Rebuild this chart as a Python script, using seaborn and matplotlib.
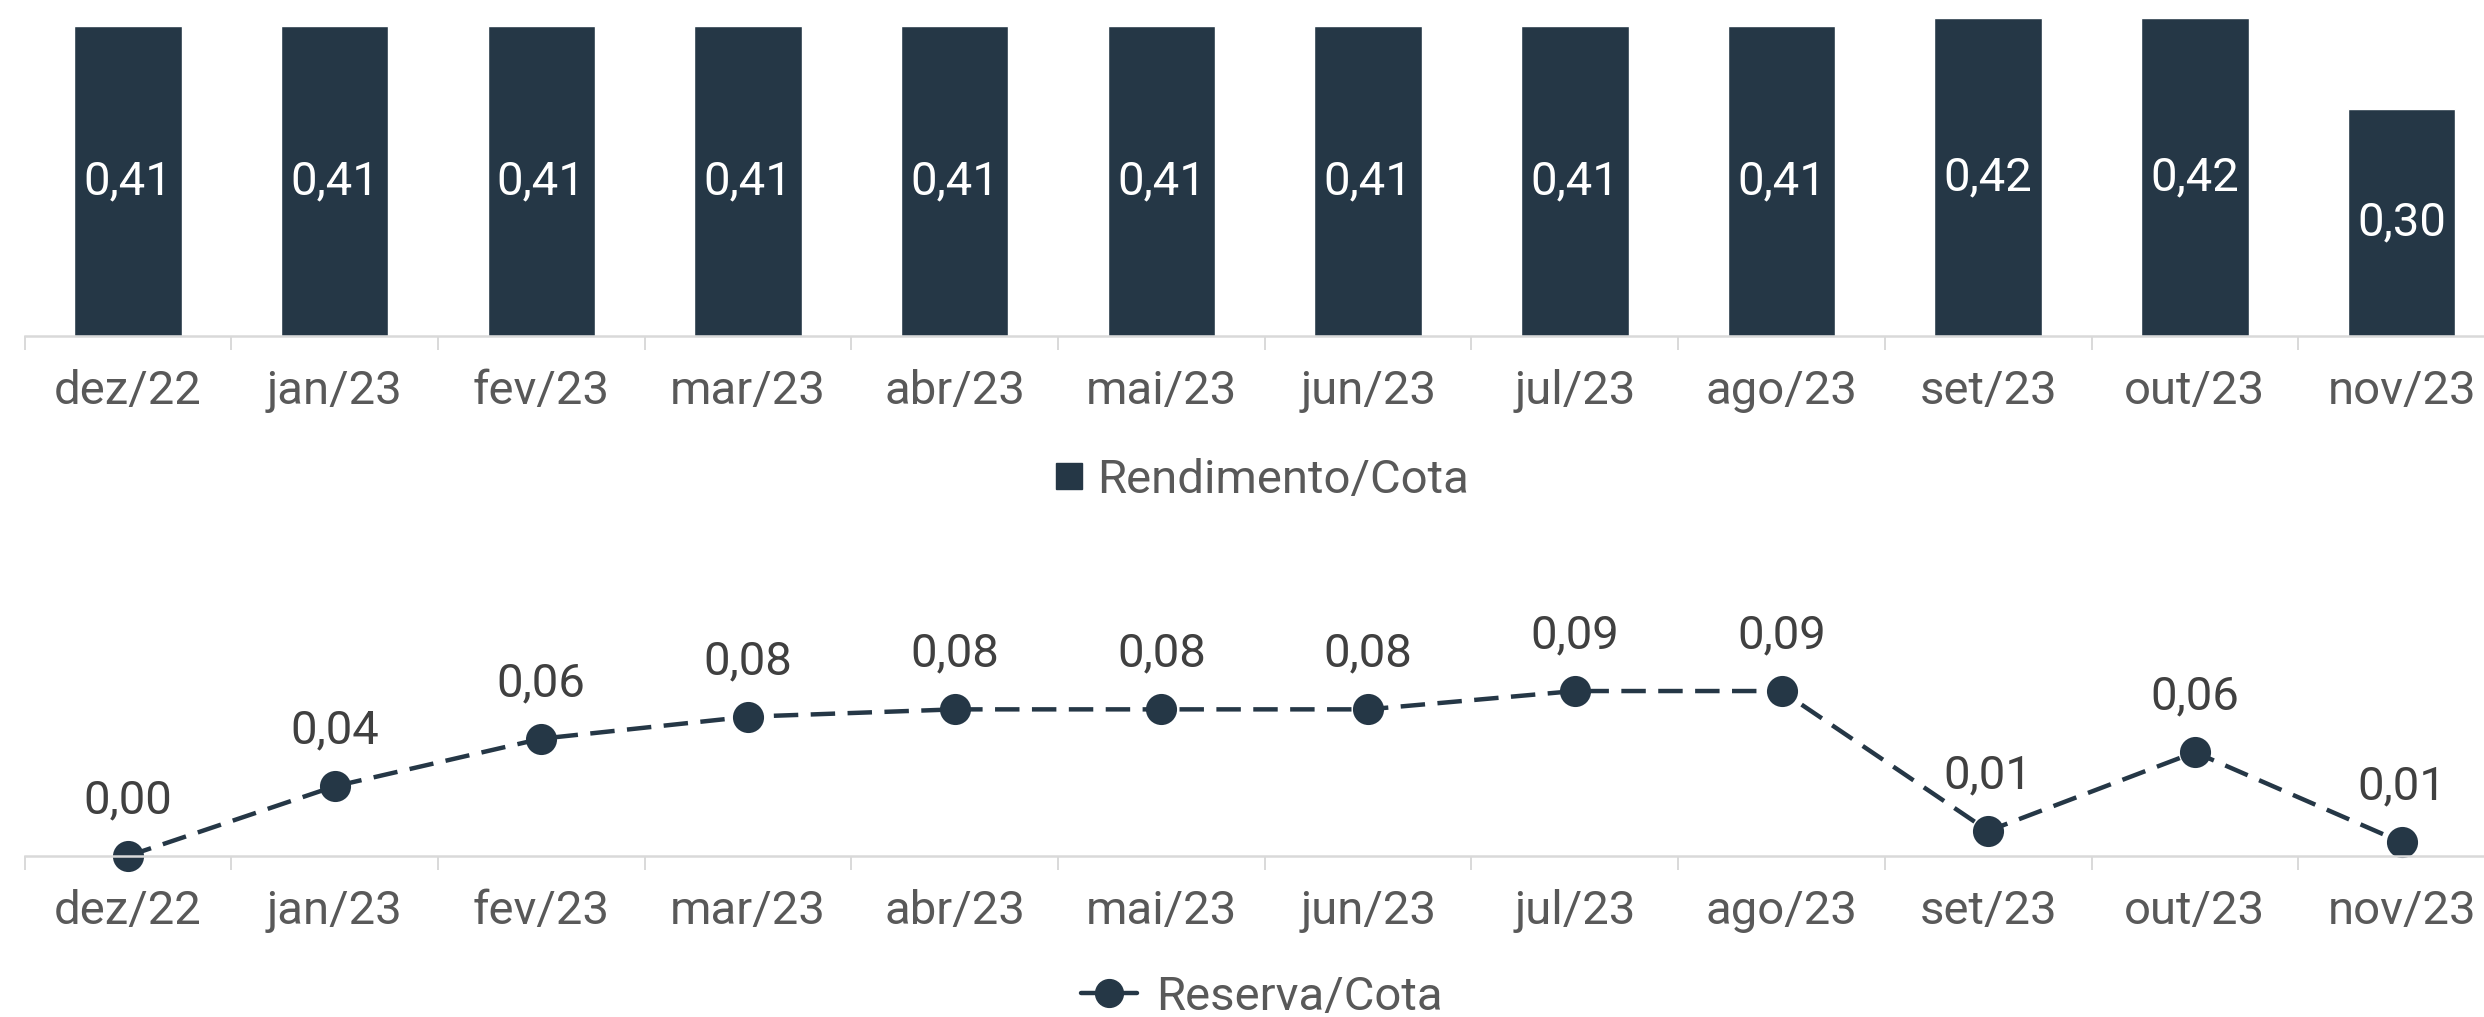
import numpy as np
import matplotlib
matplotlib.use("Agg")
import matplotlib.pyplot as plt
from matplotlib.lines import Line2D
import seaborn as sns

months = ["dez/22", "jan/23", "fev/23", "mar/23", "abr/23", "mai/23",
          "jun/23", "jul/23", "ago/23", "set/23", "out/23", "nov/23"]
rendimento = [0.41, 0.41, 0.41, 0.41, 0.41, 0.41, 0.41, 0.41, 0.41, 0.42, 0.42, 0.30]
reserva = [0.000, 0.038, 0.064, 0.076, 0.080, 0.080, 0.080, 0.090, 0.090, 0.0137, 0.0566, 0.0075]

NAVY = "#253746"
TICK_GRAY = "#595959"
LABEL_GRAY = "#404040"
AXIS_GRAY = "#d9d9d9"
FS = 34

sns.set_theme(style="white")
plt.rcParams["font.family"] = ["Roboto", "DejaVu Sans"]


def fmt(v):
    return f"{v:.2f}".replace(".", ",")


def style_axis(ax, n):
    for side in ["top", "right", "left"]:
        ax.spines[side].set_visible(False)
    ax.spines["bottom"].set_color(AXIS_GRAY)
    ax.spines["bottom"].set_linewidth(1.8)
    ax.set_xlim(-0.5, n - 0.5)
    ax.set_yticks([])
    ax.set_ylabel("")
    ax.set_xlabel("")
    ax.set_xticks(np.arange(-0.5, n, 1.0), minor=True)
    ax.tick_params(axis="x", which="minor", length=10, width=1.4,
                   color=AXIS_GRAY, direction="out", bottom=True)
    ax.tick_params(axis="x", which="major", length=0, pad=24,
                   labelsize=FS, labelcolor=TICK_GRAY)


W, H = 2484, 1017
fig = plt.figure(figsize=(W / 100, H / 100), dpi=100)
fig.patch.set_facecolor("white")

left = 24.5 / W
width = (2505 - 24.5) / W

# top: rendimento bars
ax1 = fig.add_axes([left, 1 - 336 / H, width, 336 / H])
sns.barplot(x=months, y=rendimento, color=NAVY, width=0.52, saturation=1,
            ax=ax1)
ax1.set_ylim(0, 336 / 756.0)
style_axis(ax1, len(months))
ax1.bar_label(ax1.containers[0], labels=[fmt(v) for v in rendimento],
              label_type="center", color="white", fontsize=FS)

# bottom: reserva line
ax2 = fig.add_axes([left, 1 - 856 / H, width, 236 / H])
sns.pointplot(x=months, y=reserva, color=NAVY, linestyles="--",
              markers="o", markersize=20, linewidth=3.2, errorbar=None,
              ax=ax2)
for ln in ax2.lines:
    ln.set_linewidth(3.2)
    ln.set_dashes((5.5, 2.8))
    ln.set_clip_on(False)
for coll in ax2.collections:
    coll.set_clip_on(False)
ax2.set_ylim(0, 236 / 1833.0)
style_axis(ax2, len(months))
for i, v in enumerate(reserva):
    ax2.annotate(fmt(v), (i, v), xytext=(0, 40), textcoords="offset points",
                 ha="center", va="center", fontsize=FS, color=LABEL_GRAY)

# legends
h1 = Line2D([], [], linestyle="none", marker="s", markersize=18.5,
            color=NAVY)
fig.legend([h1], ["Rendimento/Cota"], loc="center",
           bbox_to_anchor=(0.508, 1 - 480 / H), frameon=False, fontsize=FS,
           labelcolor=TICK_GRAY, handlelength=0.6, handletextpad=0.3,
           borderpad=0)
h2 = Line2D([], [], linestyle="-", linewidth=3.2, marker="o", markersize=20,
            color=NAVY)
fig.legend([h2], ["Reserva/Cota"], loc="center",
           bbox_to_anchor=(0.508, 1 - 997 / H), frameon=False, fontsize=FS,
           labelcolor=TICK_GRAY, handlelength=1.2, handletextpad=0.4,
           borderpad=0)

fig.savefig("out.png", dpi=100, facecolor="white")
